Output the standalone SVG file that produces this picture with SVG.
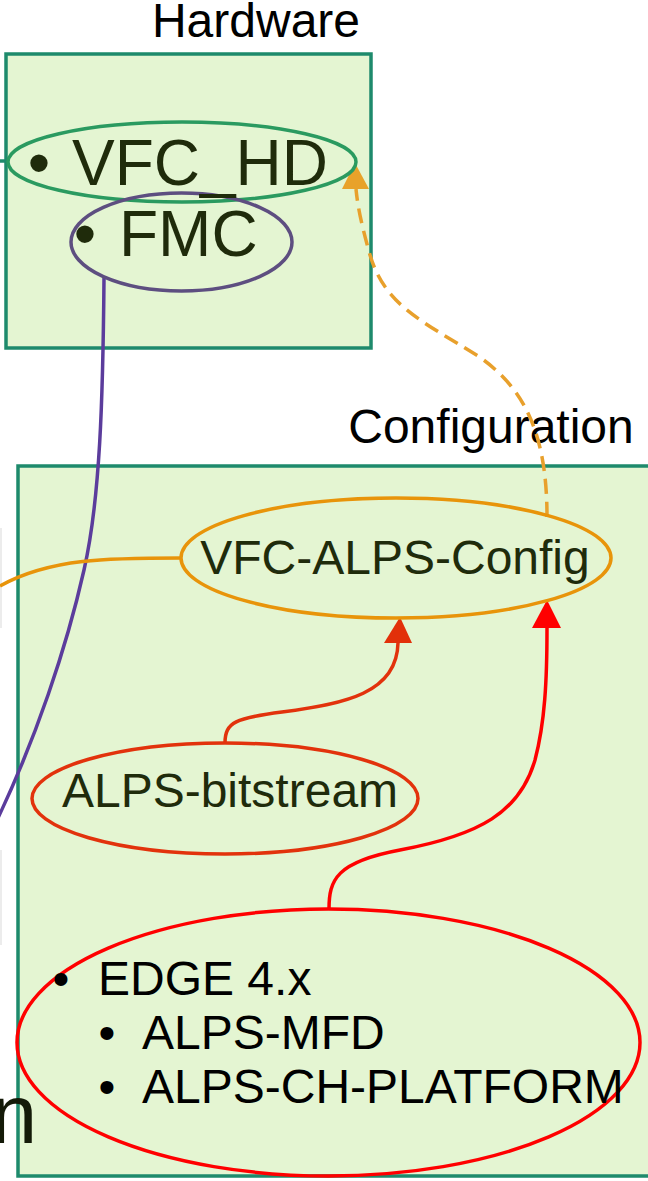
<svg xmlns="http://www.w3.org/2000/svg" width="648" height="1181" viewBox="0 0 648 1181">
<style>
  .box { fill: #e4f5d2; stroke: #1e8a6c; stroke-width: 3.5; }
  .title { font-family: "Liberation Sans", Arial, sans-serif; font-size: 48px; fill: #000; }
  .lbl { font-family: "Liberation Sans", Arial, sans-serif; fill: #1f2b0b; }
  .lst { font-family: "Liberation Sans", Arial, sans-serif; font-size: 48px; fill: #000; }
  .edge { fill: none; stroke-width: 3.5; }
  .node { fill: none; stroke-width: 3.5; }
</style>
<rect width="648" height="1181" fill="#ffffff"/>
<!-- faint cropped marks at left edge -->
<line x1="1" y1="528" x2="1" y2="628" stroke="#ececec" stroke-width="2"/>
<line x1="1" y1="850" x2="1" y2="945" stroke="#ececec" stroke-width="2"/>

<g id="hardware">
  <text class="title" x="256" y="37" text-anchor="middle">Hardware</text>
  <rect class="box" x="6" y="54" width="365" height="294"/>
</g>
<g id="configuration">
  <text class="title" x="491" y="443" text-anchor="middle">Configuration</text>
  <rect class="box" x="18" y="466" width="640" height="710"/>
</g>

<g id="connectors">
  <line x1="0" y1="161" x2="9" y2="161" stroke="#1e8a6c" stroke-width="3.5"/>
  <path class="edge" stroke="#5b3c9c" d="M104,278 C103,400 100,500 84,570 C66,650 35,740 -2,818"/>
  <path class="edge" stroke="#e8940a" d="M181,558 C110,558 50,558 0,586"/>
  <path class="edge" stroke="#e8a02c" stroke-dasharray="15 8" d="M547,517 C547,440 528,390 478,356 C420,320 385,305 370,255 C363,230 358,210 356,189"/>
  <polygon fill="#e8a22a" points="355,163 342,189 369,189"/>
  <path class="edge" stroke="#e2320c" d="M225,743 C225,722 236,718 282,712 C345,704 397,693 398,643"/>
  <polygon fill="#e2300a" points="400,617 384,643 412,643"/>
  <path class="edge" stroke="#ff0000" d="M329,909 C329,880 336,862 400,850 C480,835 520,812 535,760 C545,722 547,680 547,628"/>
  <polygon fill="#ff0000" points="547,600 532,628 561,628"/>
</g>

<g id="vfc_hd">
  <ellipse class="node" cx="182" cy="162" rx="174" ry="40" stroke="#2a9a60"/>
</g>
<g id="fmc">
  <ellipse class="node" cx="181.5" cy="242" rx="110.5" ry="49" stroke="#5d4e80"/>
  <text class="lbl" x="85" y="256" font-size="64" text-anchor="middle">•</text>
  <text class="lbl" x="119" y="256" font-size="64">FMC</text>
</g>
<g id="vfc_hd_text">
  <text class="lbl" x="39" y="185" font-size="64" text-anchor="middle">•</text>
  <text class="lbl" x="72" y="185" font-size="64">VFC_HD</text>
</g>

<g id="vfc-alps-config">
  <ellipse class="node" cx="396" cy="558" rx="215" ry="60" stroke="#e8940a"/>
  <text class="lbl" x="395" y="574" font-size="48" text-anchor="middle">VFC-ALPS-Config</text>
</g>
<g id="alps-bitstream">
  <ellipse class="node" cx="225" cy="798.5" rx="193" ry="55.5" stroke="#e2320c"/>
  <text class="lbl" x="230" y="807" font-size="48" text-anchor="middle">ALPS-bitstream</text>
</g>
<g id="edge">
  <ellipse class="node" cx="328.5" cy="1042.5" rx="311.5" ry="133.5" stroke="#ff0000"/>
  <text class="lst" x="61" y="995" text-anchor="middle">•</text>
  <text class="lst" x="98" y="995">EDGE 4.x</text>
  <text class="lst" x="107" y="1049" text-anchor="middle">•</text>
  <text class="lst" x="142" y="1049">ALPS-MFD</text>
  <text class="lst" x="107" y="1103" text-anchor="middle">•</text>
  <text class="lst" x="142" y="1103">ALPS-CH-PLATFORM</text>
</g>

<text x="-9" y="1143" font-family="Liberation Sans, Arial, sans-serif" font-size="83" fill="#141a08">n</text>
</svg>
